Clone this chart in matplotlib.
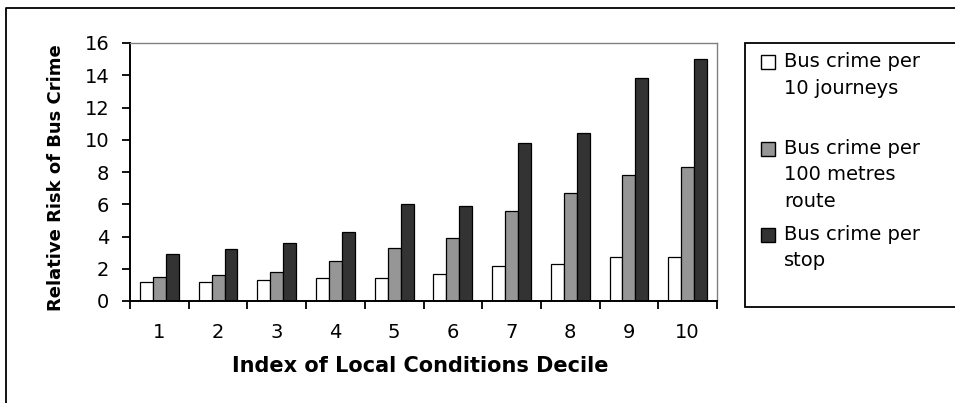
import numpy as np
import matplotlib
matplotlib.use('Agg')
import matplotlib.pyplot as plt
from matplotlib.patches import Rectangle
from matplotlib.lines import Line2D

plt.rcParams['font.family'] = ['DejaVu Sans']

# values
deciles = ['1', '2', '3', '4', '5', '6', '7', '8', '9', '10']
per_journeys = [1.2, 1.2, 1.3, 1.4, 1.4, 1.7, 2.2, 2.3, 2.7, 2.7]
per_100m = [1.5, 1.6, 1.8, 2.5, 3.3, 3.9, 5.6, 6.7, 7.8, 8.3]
per_stop = [2.9, 3.2, 3.6, 4.3, 6.0, 5.9, 9.8, 10.4, 13.8, 15.0]
series_labels = ['Bus crime per\n10 journeys',
                 'Bus crime per\n100 metres\nroute',
                 'Bus crime per\nstop']
series_colors = ['white', '#969696', '#333333']

W, H = 955, 403
fig = plt.figure(figsize=(W / 100, H / 100), dpi=100)


def fx(px):
    return px / W


def fy(py):
    return 1 - py / H


# plot area in pixel terms
left, right, top, bottom = 130, 717, 43, 301
ax = fig.add_axes([fx(left), fy(bottom), fx(right - left), (bottom - top) / H])

x = np.arange(1, len(deciles) + 1)
bw = 0.22
for off, vals, col in zip([-bw, 0, bw], [per_journeys, per_100m, per_stop], series_colors):
    ax.bar(x + off, vals, width=bw, color=col, edgecolor='black', linewidth=0.9)

ax.set_xlim(0.5, len(deciles) + 0.5)
ax.set_ylim(0, 16)
ax.set_yticks(np.arange(0, 17, 2))
ax.set_xticks(x)
ax.set_xticklabels(deciles)
ax.set_xticks(np.arange(0.5, len(deciles) + 1), minor=True)
ax.tick_params(axis='x', which='major', length=0, pad=16, labelsize=14)
ax.tick_params(axis='x', which='minor', length=6, width=1.3, direction='out')
ax.tick_params(axis='y', length=6, width=1.3, direction='out', pad=9, labelsize=14)

for s in ['left', 'bottom']:
    ax.spines[s].set_color('black')
    ax.spines[s].set_linewidth(1.4)
for s in ['top', 'right']:
    ax.spines[s].set_color('#808080')
    ax.spines[s].set_linewidth(1.0)

ax.set_ylabel('Relative Risk of Bus Crime', fontsize=13, fontweight='bold')
ax.yaxis.set_label_coords(-0.11, 0.48)
ax.set_xlabel('Index of Local Conditions Decile', fontsize=15, fontweight='bold')
ax.xaxis.set_label_coords(0.495, -0.215)

# legend box drawn by hand to keep Excel-like slot spacing
fig.add_artist(Rectangle((fx(745), fy(307)), fx(960 - 745), (307 - 43) / H,
                         transform=fig.transFigure, facecolor='white',
                         edgecolor='black', linewidth=1.3))
first_lines = [62, 149, 235]
for lab, col, y0 in zip(series_labels, series_colors, first_lines):
    fig.add_artist(Rectangle((fx(761), fy(y0 + 7)), fx(14), 14 / H,
                             transform=fig.transFigure, facecolor=col,
                             edgecolor='black', linewidth=1.0))
    fig.text(fx(784), fy(y0 - 10), lab, fontsize=14, va='top', ha='left',
             linespacing=1.5)

# outer chart frame (left and top edges visible)
fig.add_artist(Line2D([fx(6), fx(6), fx(955)], [fy(403), fy(8), fy(8)],
                      transform=fig.transFigure, color='black', linewidth=1.3))

fig.savefig('out.png', dpi=100)
